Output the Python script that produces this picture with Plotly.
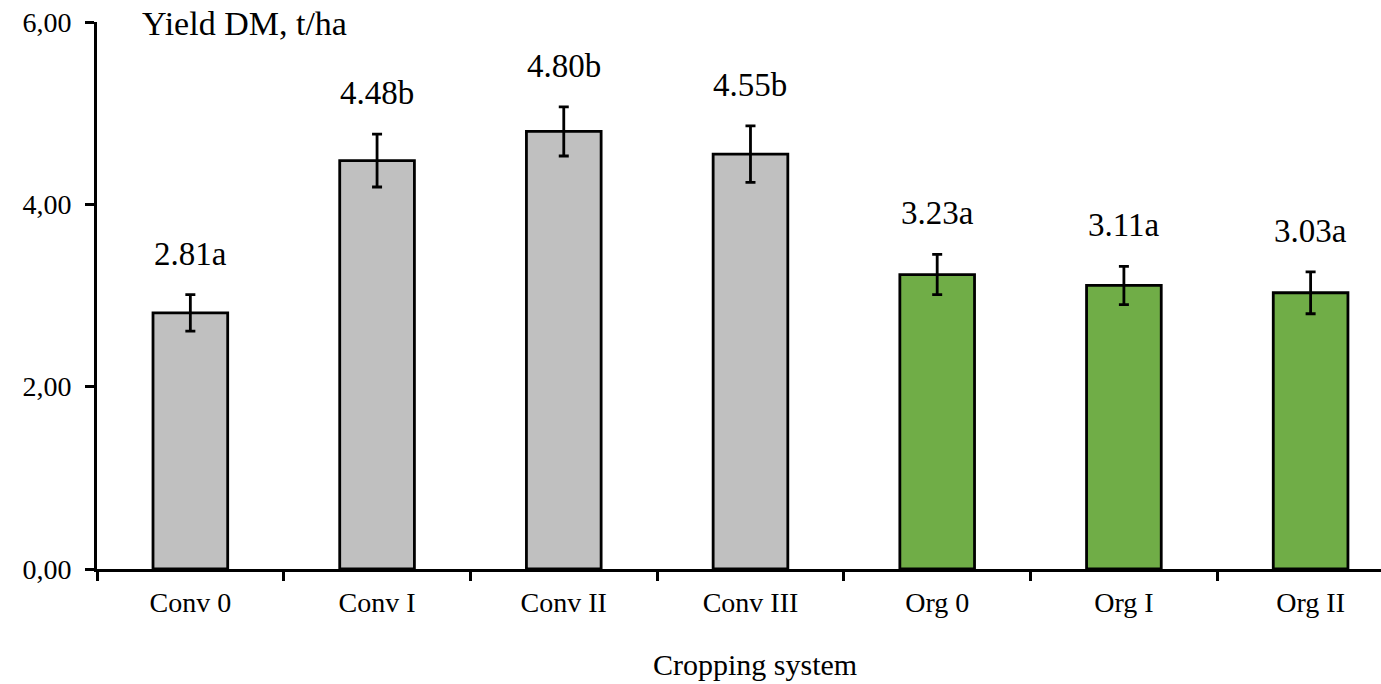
import plotly.graph_objects as go

categories = ["Conv 0", "Conv I", "Conv II", "Conv III", "Org 0", "Org I", "Org II"]
yields = [2.81, 4.48, 4.80, 4.55, 3.23, 3.11, 3.03]
errors = [0.20, 0.29, 0.27, 0.31, 0.22, 0.21, 0.23]
letters = ["a", "b", "b", "b", "a", "a", "a"]
colors = ["#c0c0c0"] * 4 + ["#70ad47"] * 3
y_ticks = [0, 2, 4, 6]
y_tick_text = ["0,00", "2,00", "4,00", "6,00"]

FONT = "Liberation Serif"

fig = go.Figure()
fig.add_trace(go.Bar(
    x=categories, y=yields, width=0.4,
    marker=dict(color=colors, line=dict(color="black", width=2.8)),
    error_y=dict(type="data", array=errors, color="black", thickness=2.8, width=5),
    showlegend=False,
))

for c, v, e, l in zip(categories, yields, errors, letters):
    fig.add_annotation(x=c, y=v + e, text=f"{v:.2f}{l}", showarrow=False,
                       yanchor="middle", yshift=41,
                       font=dict(family=FONT, size=33, color="black"))

fig.add_annotation(xref="paper", yref="paper", x=0.0335, y=0.997, xanchor="left", yanchor="middle",
                   text="Yield DM, t/ha", showarrow=False,
                   font=dict(family=FONT, size=34, color="black"))

fig.add_annotation(xref="paper", yref="paper", x=0.5125, y=-0.1755, xanchor="center", yanchor="middle",
                   text="Cropping system", showarrow=False,
                   font=dict(family=FONT, size=30, color="black"))

fig.update_layout(
    width=1381, height=684,
    margin=dict(l=97, r=0, t=22, b=115),
    paper_bgcolor="white", plot_bgcolor="white",
    bargap=0.6,
    font=dict(family=FONT, color="black"),
    xaxis=dict(type="category", range=[-0.5, 6.377], tickson="boundaries",
               ticks="outside", ticklen=9, tickwidth=2.8, tickcolor="black",
               showline=True, linecolor="black", linewidth=2.8,
               tickfont=dict(family=FONT, size=28, color="black"),
               ticklabelstandoff=6,
               showgrid=False, zeroline=False),
    yaxis=dict(range=[0, 6], tickvals=y_ticks, ticktext=y_tick_text,
               ticks="outside", ticklen=9, tickwidth=2.8, tickcolor="black",
               showline=True, linecolor="black", linewidth=2.8,
               tickfont=dict(family=FONT, size=28, color="black"),
               ticklabelstandoff=8,
               showgrid=False, zeroline=False),
)

fig.write_html("out.html")
